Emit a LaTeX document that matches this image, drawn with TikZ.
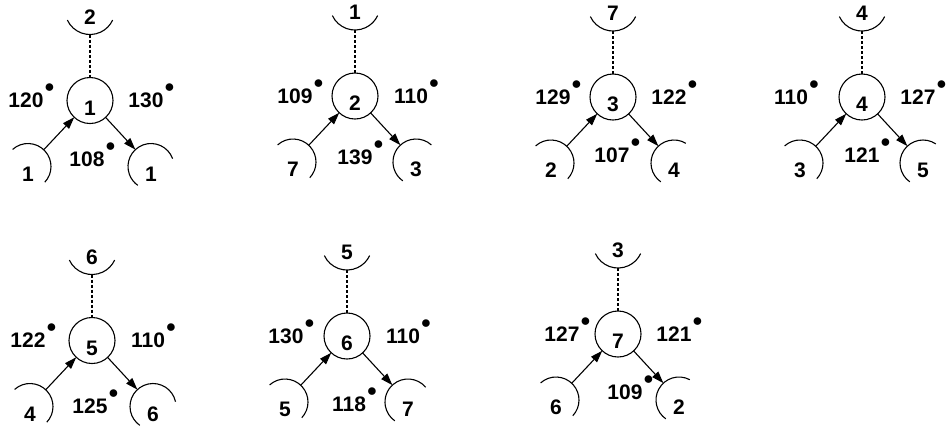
\documentclass[tikz,border=0pt]{standalone}
\usepackage{fontspec}
\setmainfont{Liberation Sans}
\usetikzlibrary{arrows.meta}
\newcommand\dg{\rlap{\kern0.6pt\smash{\raisebox{7.6pt}{\scalebox{0.9}{$\bullet$}}}}}
\tikzset{pin/.style={-{Triangle[length=6pt,width=4pt]}},
  res/.style={draw, circle, minimum size=23pt, inner sep=0pt, outer sep=0pt,
    text height=14.5pt, text depth=0pt},
  nb/.style={circle, minimum size=23pt, inner sep=0pt, outer sep=0pt,
    text height=14.5pt, text depth=0pt},
  tp/.style={nb, minimum size=25pt},
  bond/.style={dash pattern=on 1.5pt off 1pt}}

\begin{document}
\begin{tikzpicture}[x=0.5pt, y=0.5pt, line width=0.55pt,
  font=\fontsize{10.5}{12}\selectfont\bfseries]
  \useasboundingbox (0,0) rectangle (948,-425);
  % one residue per panel: centre, neighbours, angles
  \foreach \cx/\cy/\nc/\nt/\nl/\nr/\al/\ar/\ab/\xl/\bx/\by/\re [count=\i] in {
      90/-100.5/1/2/1/1/120/130/108/64/-3/58.5/20,
      355/-96/2/1/7/3/109/110/139/60/0/61/48,
      613/-97/3/7/2/4/129/122/107/60/-1/58/59,
      862/-97/4/4/3/5/110/127/121/71/0/58/56,
      92/-340.5/5/6/4/6/122/110/125/64/-2/66/12,
      347/-336/6/5/5/7/130/110/118/61/2/68/40,
      618/-334/7/3/6/2/127/121/109/56/7/58/62}{
    \node[res] (c\i) at (\cx,\cy) {\nc};
    \node[tp] (t\i) at (\cx,\cy+91) {\nt};
    \node[nb] (l\i) at (\cx-62,\cy-66) {\nl};
    \node[nb] (r\i) at (\cx+61,\cy-66) {\nr};
    \draw (t\i.205) arc[start angle=205, end angle=335, radius=12.5pt];
    \draw (l\i.132) arc[start angle=132, end angle=-43, radius=11.5pt];
    \draw (r\i.\re) arc[start angle=\re, end angle=235, radius=11.5pt];
    \draw[bond] (t\i) -- (c\i);
    \draw[pin] (l\i) -- (c\i);
    \draw[pin] (c\i) -- (r\i);
    \node (al\i) at (\cx-\xl,\cy) {\al\dg};
    \node (ar\i) at (\cx+56,\cy) {\ar\dg};
    \node (ab\i) at (\cx+\bx,\cy-\by) {\ab\dg};
  }
\end{tikzpicture}
\end{document}
